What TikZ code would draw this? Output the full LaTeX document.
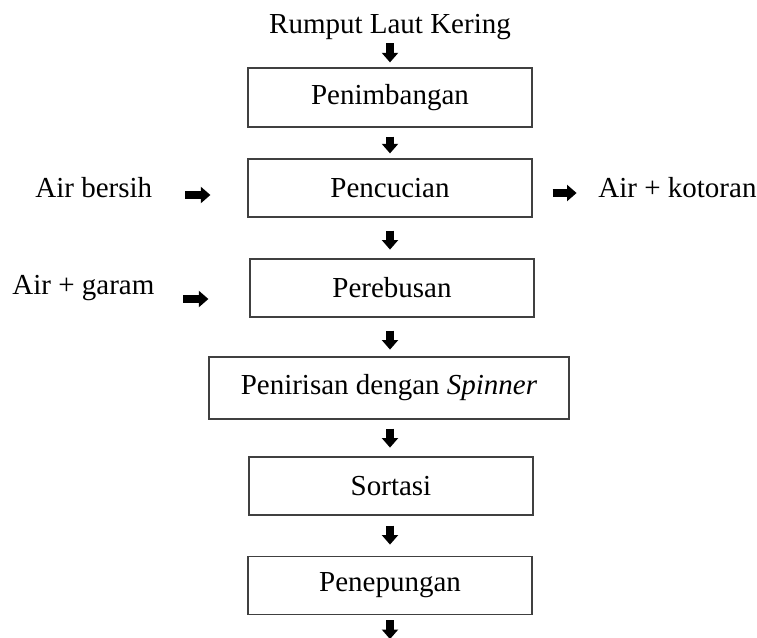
\documentclass[tikz,border=0pt]{standalone}
\usepackage{fontspec}
\setmainfont{Liberation Serif}
\usetikzlibrary{arrows.meta,calc}
\begin{document}
\begin{tikzpicture}[x=0.5pt,y=-0.5pt,
  font=\fontsize{14.5pt}{17pt}\selectfont,
  box/.style={draw=black!75,line width=0.6pt,minimum height=29pt,inner sep=0pt,minimum width=142pt},
  blk/.style={line width=4.2pt,-{Triangle[width=8pt,length=4.8pt]}},
  lbl/.style={inner sep=0pt}]
\useasboundingbox (0,0) rectangle (757,638);
\node[lbl,anchor=base] (title) at (390,33) {Rumput Laut Kering};
\node[box,minimum height=29.5pt] (b1) at (390,97.5) {Penimbangan};
\node[box] (b2) at (390,188) {Pencucian};
\node[box] (b3) at (392,288) {Perebusan};
\node[box,minimum width=180pt,minimum height=31pt] (b4) at (389,388) {Penirisan dengan \textit{Spinner}};
\node[box] (b5) at (391,486) {Sortasi};
\node[box] (b6) at (390,585.5) {Penepungan};
\node[lbl,anchor=west] (in1) at (35,188) {Air bersih};
\node[lbl,anchor=west] (in2) at (12,288) {Air + garam};
\node[lbl,anchor=west] (out1) at (598,188) {Air + kotoran};
% vertical arrows
\draw[blk] ($(b1.north)+(0,-24)$) -- ($(b1.north)+(0,-5)$);
\draw[blk] ($(b1.south)+(0,9)$) -- ($(b2.north)+(0,-5)$);
\draw[blk] ($(b2.south)+(0,13)$) -- ($(b2.south)+(0,32)$);
\draw[blk] ($(b3.south)+(-2,13)$) -- ($(b3.south)+(-2,32)$);
\draw[blk] ($(b4.south)+(1,9)$) -- ($(b4.south)+(1,28)$);
\draw[blk] ($(b5.south)+(-1,10)$) -- ($(b5.south)+(-1,29)$);
\draw[blk] ($(b6.south)+(0,5)$) -- ($(b6.south)+(0,24)$);
% side arrows
\draw[blk] ($(b2.west)+(-62,7)$) -- ($(b2.west)+(-37,7)$);
\draw[blk] ($(b3.west)+(-66,11)$) -- ($(b3.west)+(-41,11)$);
\draw[blk] ($(b2.east)+(20,5)$) -- ($(b2.east)+(44,5)$);
\end{tikzpicture}
\end{document}
